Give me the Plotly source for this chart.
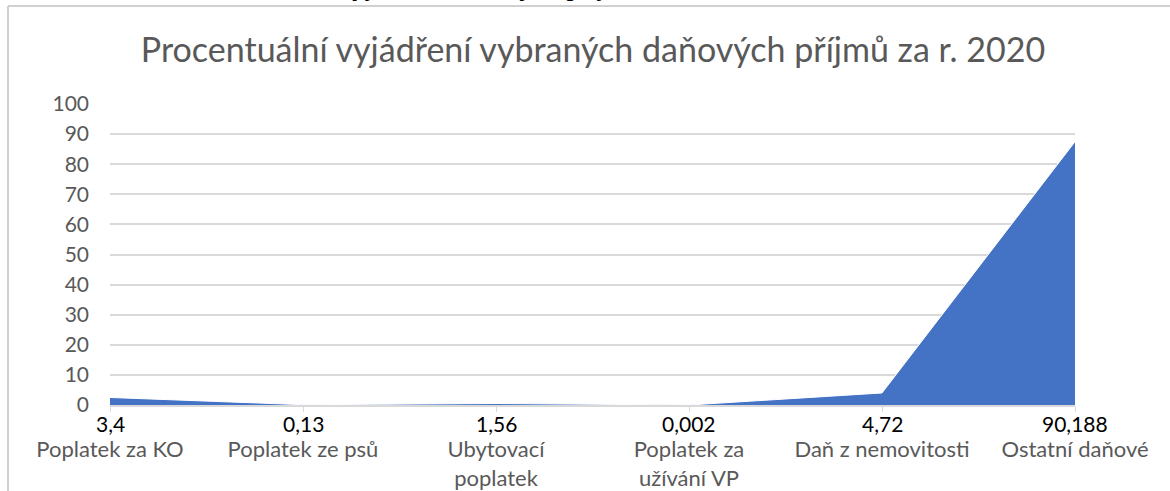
import plotly.graph_objects as go

# kategorie na ose x
kategorie = [
    "Poplatek za KO",
    "Poplatek ze psů",
    "Ubytovací<br>poplatek",
    "Poplatek za<br>užívání VP",
    "Daň z nemovitosti",
    "Ostatní daňové",
]
# vyska plochy (%)
podil = [2.5, 0.1, 0.5, 0.0, 4.0, 87.5]
# popisky dat tak jak jsou v grafu
popisky = ["3,4", "0,13", "1,56", "0,002", "4,72", "90,188"]

y_ticks = list(range(0, 101, 10))

font = "Lato"
seda = "#595959"
mrizka = "#D9D9D9"

fig = go.Figure()

fig.add_trace(go.Scatter(
    x=kategorie, y=podil,
    mode="lines",
    fill="tozeroy",
    fillcolor="#4472C4",
    line=dict(color="white", width=1),
    hoverinfo="skip",
    showlegend=False,
))

# popisky dat pod osou
anotace = [
    dict(x=k, y=0, xref="x", yref="y", text=t,
         showarrow=False, yanchor="top", yshift=-4,
         font=dict(family=font, size=21, color="black"))
    for k, t in zip(kategorie, popisky)
]

# oriznuty text z dokumentu nad grafem
anotace.append(dict(
    text="vyjádření daňových příjmů",
    xref="paper", yref="paper",
    x=(336 - 110) / 965, xanchor="left",
    y=1 + (104 - 3) / 301, yanchor="bottom",
    showarrow=False,
    font=dict(family="Liberation Serif", size=28, color="black"),
))

fig.update_layout(
    width=1170, height=491,
    margin=dict(l=110, r=95, t=104, b=86, autoexpand=False),
    paper_bgcolor="white",
    plot_bgcolor="white",
    title=dict(
        text="Procentuální vyjádření vybraných daňových příjmů za r. 2020",
        x=593 / 1170, xanchor="center",
        y=1 - 50 / 491, yanchor="middle",
        font=dict(family=font, size=34, color=seda),
    ),
    xaxis=dict(
        type="category",
        categoryorder="array", categoryarray=kategorie,
        range=[0, len(kategorie) - 1],
        showgrid=False,
        showline=True, linecolor=mrizka, linewidth=1.5,
        ticks="outside", ticklen=5, tickcolor=mrizka,
        ticklabelstandoff=19,
        tickfont=dict(family=font, size=22, color=seda),
        zeroline=False,
        automargin=False,
    ),
    yaxis=dict(
        range=[0, 100],
        tickvals=y_ticks,
        showgrid=True, gridcolor=mrizka, gridwidth=1.5,
        zeroline=False,
        showline=False,
        ticklabelstandoff=20,
        tickfont=dict(family=font, size=21, color=seda),
        automargin=False,
    ),
    shapes=[
        # ramecek grafu (levy a horni okraj)
        dict(type="line", xref="paper", yref="paper",
             x0=(8 - 110) / 965, x1=(8 - 110) / 965,
             y0=-(491 - 405) / 301, y1=1 + (104 - 6) / 301,
             line=dict(color="#D0D0D0", width=2)),
        dict(type="line", xref="paper", yref="paper",
             x0=(8 - 110) / 965, x1=(1170 - 110) / 965,
             y0=1 + (104 - 6) / 301, y1=1 + (104 - 6) / 301,
             line=dict(color="#D0D0D0", width=2)),
    ],
    annotations=anotace,
)

# bez okraju stranky, aby graf sedel presne v okne
fig.write_html("out.html", config={"displayModeBar": False},
               post_script="document.body.style.margin='0';")
